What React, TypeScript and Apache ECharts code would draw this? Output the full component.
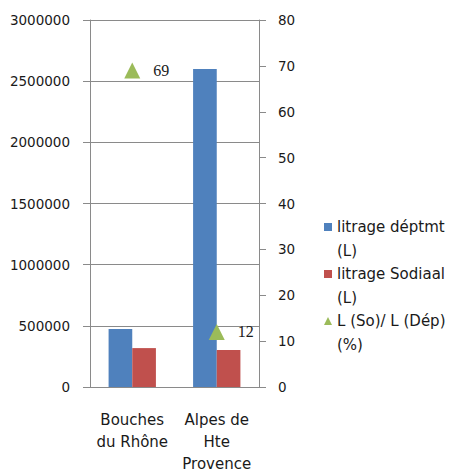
import React, { useEffect, useRef } from "react";
import * as echarts from "echarts";

const categories = ["Bouches\ndu Rhône", "Alpes de\nHte\nProvence"];
const seriesNames = ["litrage déptmt (L)", "litrage Sodiaal (L)", "L (So)/ L (Dép) (%)"];
const litrageDeptmt = [475000, 2600000];
const litrageSodiaal = [318000, 302000];
const ratioPct = [69, 12];
const leftTicks = { min: 0, max: 3000000, interval: 500000 };
const rightTicks = { min: 0, max: 80, interval: 10 };

const AXIS_GRAY = "#8a8a8a";
const TEXT = "#1a1a1a";
const FONT = "DejaVu Sans";

// Legend entries wrap their unit onto a second line; a blank leading line keeps
// the icon level with the first line of text.
const legendLabel = (name: string) => " \n" + name.replace(/ (\([^()]*\))$/, "\n$1");

export default function App() {
  const ref = useRef<HTMLDivElement>(null);

  useEffect(() => {
    document.body.style.margin = "0";
    const chart = echarts.init(ref.current!, null, { renderer: "svg" });
    chart.setOption({
      animation: false,
      backgroundColor: "#ffffff",
      grid: {
        left: 90,
        right: 190,
        top: 20,
        bottom: 85,
        containLabel: false,
        outerBoundsMode: "none",
      },
      legend: {
        orient: "vertical",
        left: 324,
        top: 191,
        padding: 0,
        itemGap: -25,
        itemWidth: 8,
        itemHeight: 8,
        textStyle: {
          fontFamily: FONT,
          fontSize: 15,
          color: TEXT,
          lineHeight: 24,
        },
        formatter: legendLabel,
        data: [
          { name: seriesNames[0], icon: "rect" },
          { name: seriesNames[1], icon: "rect" },
          { name: seriesNames[2], icon: "triangle" },
        ],
      },
      xAxis: {
        type: "category",
        data: categories,
        axisLine: { lineStyle: { color: AXIS_GRAY } },
        axisTick: { alignWithLabel: false, length: 5, lineStyle: { color: AXIS_GRAY } },
        axisLabel: {
          margin: 22,
          fontFamily: FONT,
          fontSize: 15,
          color: TEXT,
          lineHeight: 22,
          interval: 0,
        },
      },
      yAxis: [
        {
          type: "value",
          position: "left",
          ...leftTicks,
          axisLine: { show: true, lineStyle: { color: AXIS_GRAY } },
          axisTick: { show: true, length: 7, lineStyle: { color: AXIS_GRAY } },
          splitLine: { show: true, lineStyle: { color: AXIS_GRAY, width: 1 } },
          axisLabel: {
            margin: 20,
            fontFamily: FONT,
            fontSize: 13.5,
            color: TEXT,
            formatter: (v: number) => String(v),
          },
        },
        {
          type: "value",
          position: "right",
          ...rightTicks,
          axisLine: { show: true, lineStyle: { color: AXIS_GRAY } },
          axisTick: { show: true, length: 7, lineStyle: { color: AXIS_GRAY } },
          splitLine: { show: false },
          axisLabel: { margin: 19, fontFamily: FONT, fontSize: 13.5, color: TEXT },
        },
      ],
      series: [
        {
          name: seriesNames[0],
          type: "bar",
          yAxisIndex: 0,
          data: litrageDeptmt,
          itemStyle: { color: "#4f81bd" },
          barGap: "0%",
          barCategoryGap: "44%",
        },
        {
          name: seriesNames[1],
          type: "bar",
          yAxisIndex: 0,
          data: litrageSodiaal,
          itemStyle: { color: "#c0504d" },
        },
        {
          name: seriesNames[2],
          type: "line",
          yAxisIndex: 1,
          data: ratioPct,
          symbol: "triangle",
          symbolSize: [16, 16],
          lineStyle: { width: 0, opacity: 0 },
          itemStyle: { color: "#9bbb59" },
          z: 5,
          label: {
            show: true,
            position: "right",
            distance: 13,
            fontFamily: "Liberation Serif",
            fontSize: 16,
            color: TEXT,
          },
        },
      ],
    });
    return () => chart.dispose();
  }, []);

  return <div ref={ref} style={{ width: 449, height: 472 }} />;
}
